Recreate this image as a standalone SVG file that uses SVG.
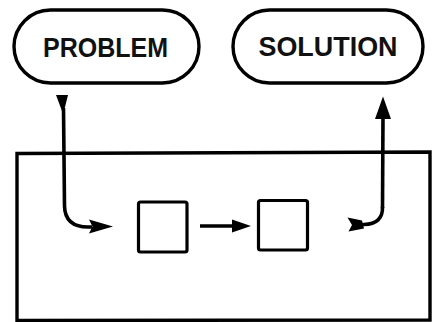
<svg xmlns="http://www.w3.org/2000/svg" width="433" height="322" viewBox="0 0 433 322">
  <defs>
    <style>
      .pill { fill: #fff; stroke: #000; stroke-width: 3.4; }
      .box { fill: none; stroke: #000; stroke-width: 3.2; stroke-linejoin: round; }
      .frame { fill: none; stroke: #000; stroke-width: 3.4; }
      .label { font-family: "Liberation Sans", Arial, sans-serif; font-weight: bold; font-size: 27.5px; fill: #111; text-anchor: middle; }
      .wire { fill: none; stroke: #000; stroke-width: 3.6; stroke-linecap: butt; }
      .head { fill: #000; stroke: none; }
    </style>
  </defs>

  <!-- enclosing system boundary -->
  <g id="system">
    <path class="frame" d="M17 153.5 L430 152 L430 320 L17 320.5 Z"/>
  </g>

  <!-- start terminal -->
  <g id="problem">
    <rect class="pill" x="14" y="10" width="185" height="73" rx="36.5" ry="36.5"/>
    <text class="label" x="105.5" y="57" textLength="125" lengthAdjust="spacingAndGlyphs">PROBLEM</text>
  </g>

  <!-- end terminal -->
  <g id="solution">
    <rect class="pill" x="233" y="10" width="190" height="73" rx="36.5" ry="36.5"/>
    <text class="label" x="328" y="56" textLength="139" lengthAdjust="spacingAndGlyphs">SOLUTION</text>
  </g>

  <!-- inner process steps -->
  <g id="step1">
    <rect class="box" x="138.5" y="202" width="48.5" height="50" rx="2"/>
  </g>
  <g id="step2">
    <rect class="box" x="258.5" y="200.5" width="49" height="49.5" rx="2"/>
  </g>

  <!-- flow connectors -->
  <g id="connectors">
    <!-- problem into the system -->
    <path class="head" d="M56 95 L68 95 L64 111 L62 111 Z"/>
    <path class="wire" d="M63.5 108 L64.5 206 Q65 227 88 227 L92 227"/>
    <path class="head" d="M89 219.5 L113 226.5 L89 233.5 L92.5 226.5 Z"/>

    <!-- step to step -->
    <path class="wire" d="M200 226 L236 226"/>
    <path class="head" d="M232 219.5 L251 226 L232 232.5 Z"/>

    <!-- system out to solution -->
    <path class="wire" d="M382.5 207 Q383 224 364 224.5 L356 225"/>
    <path class="head" d="M347.5 217.5 L362 220.5 L364 228.5 L348.5 231.5 L352 225 Z"/>
    <path class="wire" d="M383 116 L382.5 208"/>
    <path class="head" d="M383 96.5 L391 119 L375 119 Z"/>
  </g>
</svg>
